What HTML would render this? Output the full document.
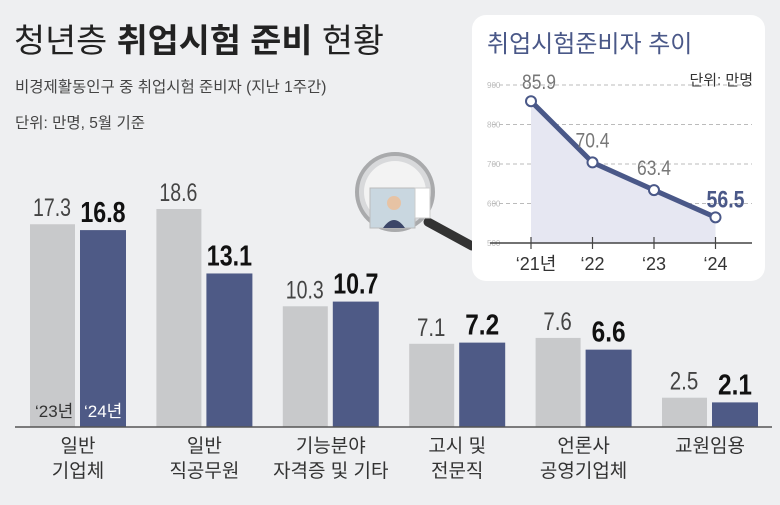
<!DOCTYPE html>
<html><head><meta charset="utf-8"><style>
html,body{margin:0;padding:0;background:#eeeff1;}
svg{display:block;font-family:"Liberation Sans","Noto Sans CJK KR",sans-serif;}
</style></head><body>
<svg id="c" width="780" height="505" viewBox="0 0 780 505" xmlns="http://www.w3.org/2000/svg">
<rect width="780" height="505" fill="#eeeff1"/>
<text x="14" y="52" font-size="33" fill="#222" textLength="370" lengthAdjust="spacingAndGlyphs">청년층 <tspan font-weight="bold">취업시험 준비</tspan> 현황</text>
<text x="15" y="92" font-size="15.5" fill="#444">비경제활동인구 중 취업시험 준비자 (지난 1주간)</text>
<text x="15" y="128" font-size="15.5" fill="#444">단위: 만명, 5월 기준</text>
<g id="bars"></g>
<line x1="15" y1="427" x2="772" y2="427" stroke="#555" stroke-width="1.5"/>
<text x="35" y="417" font-size="17" fill="#333">‘23년</text>
<text x="84" y="417" font-size="17" fill="#fff">‘24년</text>
<g>
<line x1="428" y1="222" x2="472" y2="246" stroke="#333" stroke-width="9" stroke-linecap="round"/>
<circle cx="395" cy="192" r="38" fill="#d8d9db" stroke="#a9aaac" stroke-width="4"/>
<circle cx="395" cy="192" r="31" fill="#f3f3f3"/>
<rect x="370" y="188" width="45" height="40" fill="#c9d7e0" stroke="#bbb"/>
<rect x="415" y="188" width="15" height="30" fill="#fff" stroke="#ccc"/>
<circle cx="394" cy="203" r="7" fill="#e7c3a4"/>
<path d="M383 228 Q394 212 405 228 Z" fill="#3c4668"/>
</g>
<g>
<rect x="472" y="15" width="293" height="266" rx="14" fill="#fff"/>
<text x="487" y="52" font-size="24" fill="#4a5888">취업시험준비자 추이</text>
<text x="753" y="85" font-size="15" fill="#333" text-anchor="end">단위: 만명</text>
<g id="inset"></g>
</g>
<script>
const categories=[["일반","기업체"],["일반","직공무원"],["기능분야","자격증 및 기타"],["고시 및","전문직"],["언론사","공영기업체"],["교원임용",""]];
const values2023=[17.3,18.6,10.3,7.1,7.6,2.5];
const values2024=[16.8,13.1,10.7,7.2,6.6,2.1];
const trendYears=["‘21년","‘22","‘23","‘24"];
const trendValues=[85.9,70.4,63.4,56.5];
const trendTicks=[50,60,70,80,90];
const NS="http://www.w3.org/2000/svg";
function mk(t,a,p){const e=document.createElementNS(NS,t);for(const k in a)e.setAttribute(k,a[k]);p.appendChild(e);return e;}
const base=427,unit=11.72;
const yB=v=>base-v*unit;
const xG=i=>30+i*126.4;
const bars=document.getElementById('bars');
categories.forEach((c,i)=>{
 const x=xG(i);
 const g=mk('rect',{x:x,y:yB(values2023[i]),width:45,height:values2023[i]*unit,fill:'#c8c9cb'},bars);
 
 
 const b=mk('rect',{x:x+50,y:yB(values2024[i]),width:46,height:values2024[i]*unit,fill:'#4e5a86'},bars);
 
 
 const s1=values2023[i].toFixed(1);
 const t1=mk('text',{x:x+22,y:yB(values2023[i])-8,'font-size':25,fill:'#444','text-anchor':'middle',textLength:s1.length*9.5,lengthAdjust:'spacingAndGlyphs'},bars);
 t1.textContent=s1;
 
 
 const s2=values2024[i].toFixed(1);
 const t2=mk('text',{x:x+73,y:yB(values2024[i])-8,'font-size':29,'font-weight':'bold',fill:'#111','text-anchor':'middle',textLength:s2.length*11.3,lengthAdjust:'spacingAndGlyphs'},bars);
 t2.textContent=s2;
 
 
 c.forEach((ln,j)=>{
  const l=mk('text',{x:x+48,y:452+j*25,'font-size':19,fill:'#333','text-anchor':'middle'},bars);
  l.textContent=ln;
  
  
 });
});
const ins=document.getElementById('inset');
const yL=v=>243-(v-50)*3.95;
const xL=i=>531+i*61.5;
trendTicks.forEach(t=>{
 if(t>50){const gl=mk('line',{x1:492,x2:752,y1:yL(t),y2:yL(t),stroke:'#bbb','stroke-dasharray':'4 3'},ins);
 
 }
 const tl=mk('text',{x:487,y:yL(t)+3,'font-size':8,fill:'#bbb'},ins);
 tl.textContent=t*10;
 
 
});
let area='M'+xL(0)+' 243';
trendValues.forEach((v,i)=>area+=' L'+xL(i)+' '+yL(v));
area+=' L'+xL(trendValues.length-1)+' 243 Z';
const ar=mk('path',{d:area,fill:'#e6e7f2'},ins);


const ax=mk('line',{x1:490,x2:752,y1:243,y2:243,stroke:'#444','stroke-width':1.5},ins);


const ln=mk('polyline',{points:trendValues.map((v,i)=>xL(i)+','+yL(v)).join(' '),fill:'none',stroke:'#4a5888','stroke-width':5,'stroke-linejoin':'round'},ins);


trendValues.forEach((v,i)=>{
 const tk=mk('line',{x1:xL(i),x2:xL(i),y1:237,y2:249,stroke:'#444','stroke-width':1.2},ins);
 
 
 const p=mk('circle',{cx:xL(i),cy:yL(v),r:5,fill:'#fff',stroke:'#4a5888','stroke-width':2},ins);
 
 
 const last=i===trendValues.length-1;
 const s=v.toFixed(1);
 const lb=mk('text',{x:xL(i)+(i===0?8:i===3?10:0),y:yL(v)-(i===0?12:i===3?10:15),'font-size':last?24:21,'font-weight':last?'bold':'normal',fill:last?'#4a5888':'#777','text-anchor':'middle',textLength:s.length*(last?9.5:8.5),lengthAdjust:'spacingAndGlyphs'},ins);
 lb.textContent=s;
 
 
 const xl=mk('text',{x:xL(i)+(i===0?5:0),y:270,'font-size':18,fill:'#333','text-anchor':'middle'},ins);
 xl.textContent=trendYears[i];
 
 
});
</script>
</svg>
</body></html>
